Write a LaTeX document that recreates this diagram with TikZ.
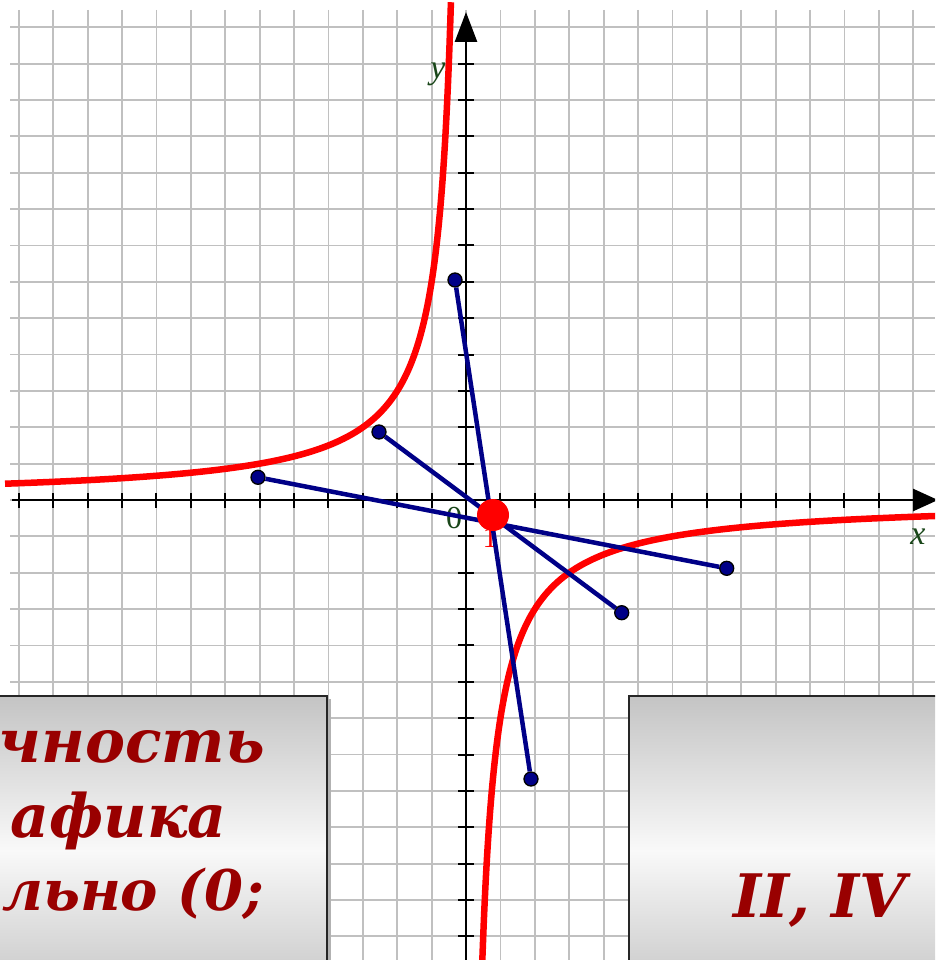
\documentclass[tikz,border=0pt]{standalone}
\usepackage{fontspec}
\setmainfont{Liberation Serif}
\newfontfamily\boxfont{DejaVu Serif}
\usetikzlibrary{arrows.meta}
\definecolor{gridgray}{RGB}{192,192,192}
\definecolor{curvered}{RGB}{255,0,0}
\definecolor{navyblue}{RGB}{0,0,135}
\definecolor{labelgreen}{RGB}{25,70,25}
\definecolor{textred}{RGB}{153,0,0}
\definecolor{boxtop}{RGB}{196,196,196}
\definecolor{boxmid}{RGB}{249,249,249}
\definecolor{boxbot}{RGB}{208,208,208}
\begin{document}
\begin{tikzpicture}[x=1pt,y=-1pt,
  gridline/.style={draw=gridgray,line width=1.8pt},
  axisline/.style={draw=black,line width=2.6pt},
  tickline/.style={draw=black,line width=2pt},
  curveline/.style={draw=curvered,line width=6.5pt},
  segline/.style={draw=navyblue,line width=4.5pt},
  enddot/.style={circle,fill=navyblue,draw=black,line width=1.3pt,minimum size=14pt,inner sep=0pt},
  bigdot/.style={circle,fill=curvered,minimum size=32pt,inner sep=0pt},
  axlabel/.style={text=labelgreen,font=\fontsize{34}{36}\selectfont\itshape,inner sep=0pt},
  boxtext/.style={text=textred,font=\boxfont\fontsize{60}{62}\selectfont\bfseries\itshape,inner sep=0pt},
  panel/.style={draw=black!85,line width=1.6pt}]
\useasboundingbox (0,0) rectangle (935,960);
\clip (0,0) rectangle (935,960);
\fill[white] (0,0) rectangle (935,960);
% grid
\foreach \i in {-13,...,13}
  \draw[gridline] ({466+34.4*\i},10) -- ({466+34.4*\i},960);
\foreach \j in {-13,...,12}
  \draw[gridline] (10,{500+36.36*\j}) -- (935,{500+36.36*\j});
% axes
\coordinate (xs) at (12,500);
\coordinate (xe) at (938,500);
\coordinate (ys) at (466,960);
\coordinate (ye) at (466,12);
\draw[axisline,-{Triangle[length=25pt,width=22pt]}] (xs) -- (xe);
\draw[axisline,-{Triangle[length=30pt,width=22pt]}] (ys) -- (ye);
\foreach \i in {-13,...,-1,1,2,...,12}
  \draw[tickline] ({466+34.4*\i},493) -- ({466+34.4*\i},508);
\foreach \j in {-12,...,-1,1,2,...,12}
  \draw[tickline] (458,{500+36.36*\j}) -- (474,{500+36.36*\j});
% axis labels
\node[axlabel] (ly) at (438,74) {y};
\node[axlabel,font=\fontsize{32}{34}\selectfont] (l0) at (454,518) {0};
\node[axlabel] (lx) at (918,537) {x};
\node[text=curvered,font=\fontsize{30}{32}\selectfont,inner sep=0pt,anchor=base] (l1) at (490,547) {1};
% hyperbola y = -6/x
\draw[curveline] plot[domain=-13.4:-0.436,samples=300,smooth] ({466+34.4*\x},{500+218.16/\x});
\draw[curveline] plot[domain=0.474:13.8,samples=300,smooth] ({466+34.4*\x},{500+218.16/\x});
% segments
\node[enddot] (a1) at (455,280) {};
\node[enddot] (a2) at (531,779) {};
\node[enddot] (b1) at (379,432) {};
\node[enddot] (b2) at (621.7,612.7) {};
\node[enddot] (c1) at (258,477.3) {};
\node[enddot] (c2) at (726.7,568.3) {};
\draw[segline] (a1) -- (a2);
\draw[segline] (b1) -- (b2);
\draw[segline] (c1) -- (c2);
\node[bigdot] (pt) at (493,515) {};
% panels
\fill[gray!60] (-5,699) rectangle (330.5,965);
\shade[top color=boxtop,bottom color=boxmid] (-5,696) rectangle (327,851);
\shade[top color=boxmid,bottom color=boxbot] (-5,850) rectangle (327,965);
\draw[panel] (-5,696) rectangle (327,965);
\shade[top color=boxtop,bottom color=boxmid] (629,696) rectangle (940,851);
\shade[top color=boxmid,bottom color=boxbot] (629,850) rectangle (940,965);
\draw[panel] (629,696) rectangle (940,965);
\node[boxtext,anchor=base east] (t1) at (265,762) {чность};
\node[boxtext,anchor=base east] (t2) at (227,837) {афика};
\node[boxtext,anchor=base west,font=\boxfont\fontsize{56}{58}\selectfont\bfseries\itshape] (t3) at (2,910) {льно (0;};
\node[boxtext,anchor=base] (t4) at (820,917) {II,\ IV};
\end{tikzpicture}
\end{document}
